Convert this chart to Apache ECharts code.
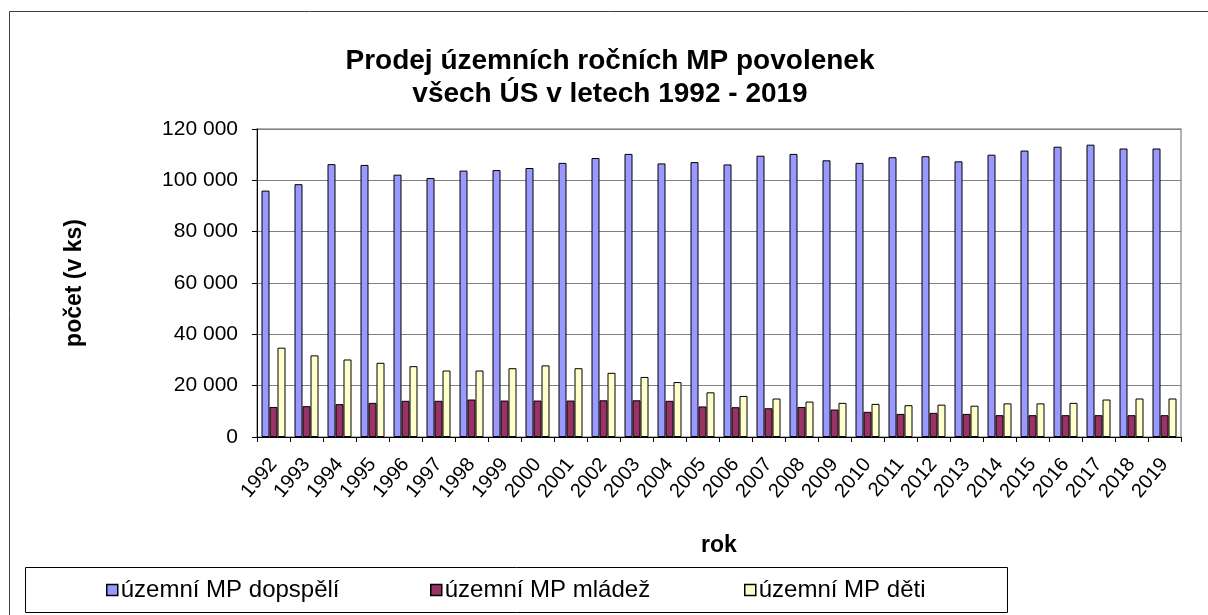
<!DOCTYPE html>
<html>
<head>
<meta charset="utf-8">
<script src="https://cdn.jsdelivr.net/npm/echarts@6/dist/echarts.min.js"></script>
<style>
  html, body { margin: 0; padding: 0; background: #fff; }
</style>
</head>
<body>
<div id="myChart" style="width:1208px;height:615px;"></div>
<script>
var years = ['1992','1993','1994','1995','1996','1997','1998','1999','2000','2001','2002','2003','2004','2005',
             '2006','2007','2008','2009','2010','2011','2012','2013','2014','2015','2016','2017','2018','2019']
var dospeli = [96000, 98500, 106300, 106000, 102200, 100900, 103800, 104000, 104800, 106800, 108700, 110300, 106600, 107100,
               106200, 109600, 110300, 107800, 106800, 109000, 109400, 107400, 110000, 111600, 113100, 113900, 112400, 112400]
var mladez = [11700, 12000, 12800, 13300, 14100, 14100, 14600, 14200, 14200, 14200, 14300, 14300, 14100, 11900,
              11600, 11200, 11700, 10700, 9800, 9000, 9400, 9000, 8500, 8500, 8500, 8500, 8500, 8500]
var deti = [34800, 31800, 30200, 28900, 27600, 25900, 25900, 26800, 27900, 26800, 25000, 23400, 21400, 17400,
            16000, 15000, 13800, 13300, 12900, 12400, 12600, 12200, 13100, 13100, 13300, 14600, 15000, 15000]
var seriesNames = ['územní MP dopspělí', 'územní MP mládež', 'územní MP děti']
var colors = ['#9999FF', '#993366', '#FFFFCC']

var font = 'Liberation Sans, Arial, sans-serif'

function fmt (v) {
  return String(v).replace(/\B(?=(\d{3})+(?!\d))/g, ' ')
}

function legendAt (name, left) {
  return {
    data: [name],
    left: left,
    top: 578,
    padding: 0,
    icon: 'rect',
    itemWidth: 11,
    itemHeight: 11,
    itemGap: 0,
    textStyle: { fontFamily: font, fontSize: 24, color: '#000', padding: [0, 0, 0, -2] },
    itemStyle: { borderColor: '#000', borderWidth: 1.5 }
  }
}

function bar (i, data) {
  return {
    name: seriesNames[i],
    type: 'bar',
    data: data,
    barWidth: 8,
    barGap: '0%',
    itemStyle: { color: colors[i], borderColor: '#000', borderWidth: 1 },
    emphasis: { disabled: true }
  }
}

var myChart = echarts.init(document.getElementById('myChart'))
myChart.setOption({
  animation: false,
  title: {
    text: 'Prodej územních ročních MP povolenek\nvšech ÚS v letech 1992 - 2019',
    left: 605,
    top: 40,
    textAlign: 'center',
    textStyle: { fontFamily: font, fontSize: 28, fontWeight: 'bold', color: '#000', lineHeight: 33 }
  },
  graphic: [{
    type: 'rect',
    shape: { x: 9.5, y: 11.5, width: 1300, height: 700 },
    style: { fill: 'none', stroke: '#404040', lineWidth: 1 },
    silent: true
  }, {
    type: 'rect',
    shape: { x: 25.5, y: 567.5, width: 982, height: 45 },
    style: { fill: 'none', stroke: '#000', lineWidth: 1 },
    silent: true
  }],
  legend: [
    legendAt(seriesNames[0], 106),
    legendAt(seriesNames[1], 430),
    legendAt(seriesNames[2], 744)
  ],
  grid: {
    left: 257,
    right: 27,
    top: 129,
    bottom: 178,
    show: true,
    borderColor: '#999',
    borderWidth: 1.5
  },
  xAxis: {
    type: 'category',
    data: years,
    name: 'rok',
    nameLocation: 'middle',
    nameGap: 97,
    nameTextStyle: { fontFamily: font, fontSize: 23, fontWeight: 'bold', color: '#000' },
    axisLine: { lineStyle: { color: '#000', width: 1 } },
    axisTick: { show: true, length: 5, lineStyle: { color: '#000' } },
    axisLabel: { interval: 0, rotate: 50, margin: 24, fontFamily: font, fontSize: 20, color: '#000' }
  },
  yAxis: {
    type: 'value',
    min: 0,
    max: 120000,
    interval: 20000,
    name: 'počet (v ks)',
    nameLocation: 'middle',
    nameGap: 171,
    nameTextStyle: { fontFamily: font, fontSize: 23, fontWeight: 'bold', color: '#000' },
    axisLine: { show: true, lineStyle: { color: '#000', width: 1 } },
    axisTick: { show: true, length: 5, lineStyle: { color: '#000' } },
    axisLabel: { margin: 19, fontFamily: font, fontSize: 21, color: '#000', formatter: fmt },
    splitLine: { lineStyle: { color: '#808080', width: 1 } }
  },
  series: [
    bar(0, dospeli),
    bar(1, mladez),
    bar(2, deti)
  ]
})
</script>
</body>
</html>
